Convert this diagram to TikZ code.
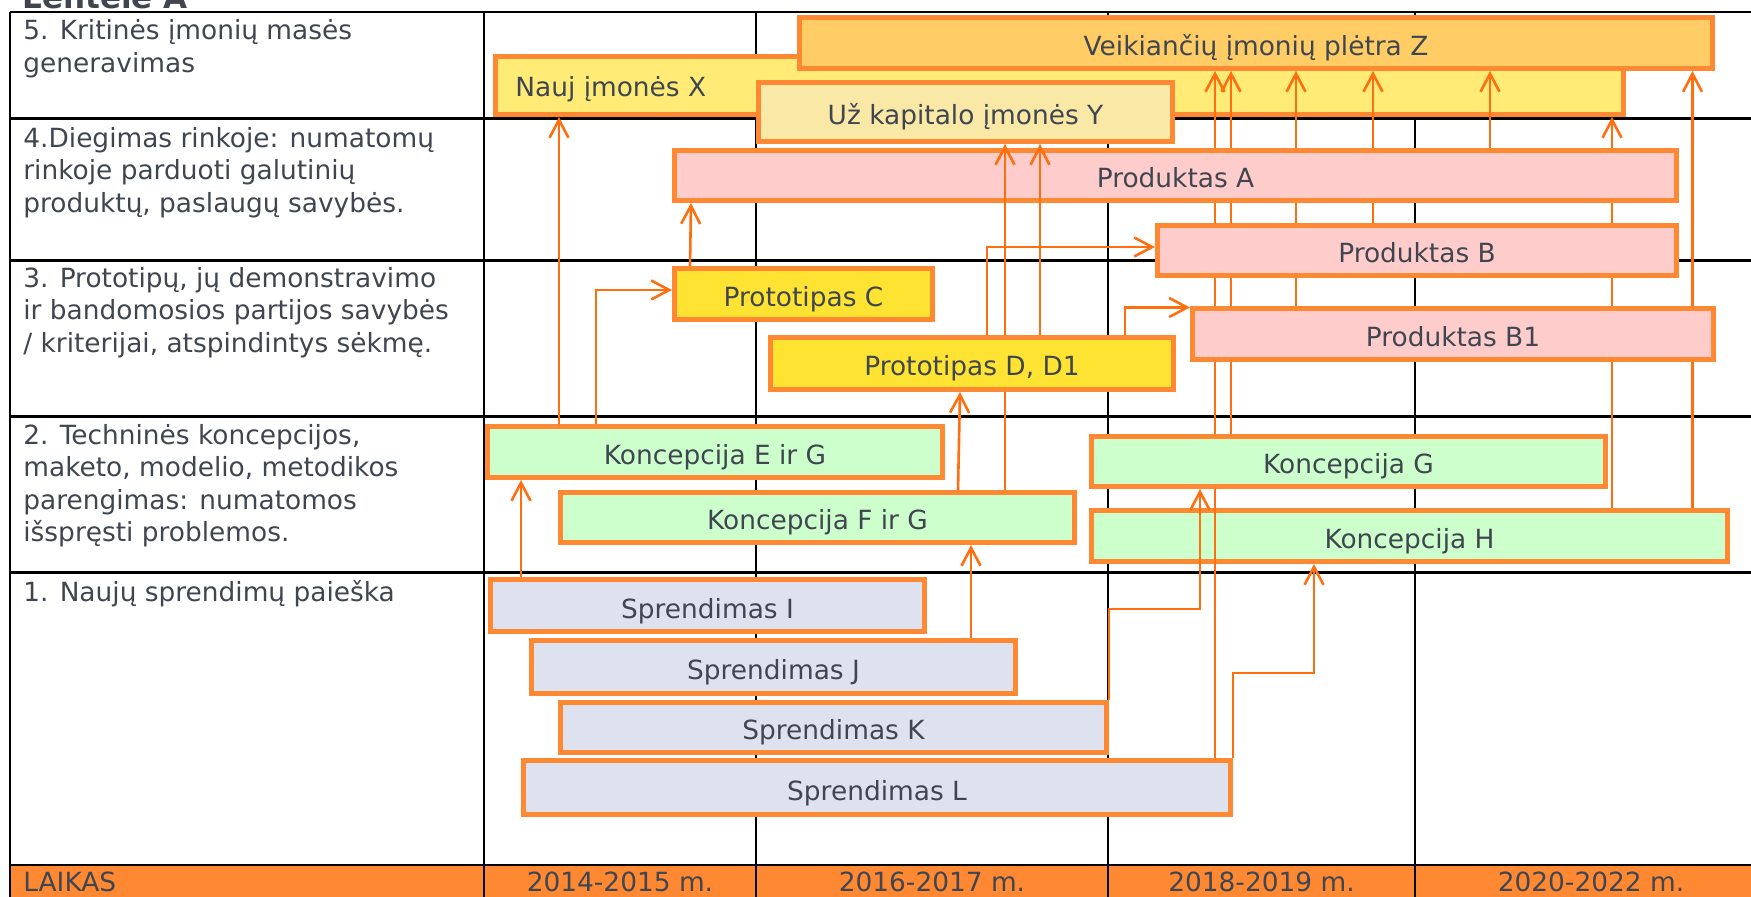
\documentclass[tikz,border=0pt]{standalone}
\usepackage{fontspec}
\setmainfont{DejaVu Sans}
\usetikzlibrary{arrows.meta}

\definecolor{txt}{RGB}{64,70,80}
\definecolor{edge}{RGB}{255,136,51}
\definecolor{link}{RGB}{255,111,15}
\definecolor{fillZ}{RGB}{255,204,102}
\definecolor{fillX}{RGB}{255,235,117}
\definecolor{fillY}{RGB}{250,232,166}
\definecolor{fillProd}{RGB}{255,204,204}
\definecolor{fillProto}{RGB}{255,227,51}
\definecolor{fillKonc}{RGB}{204,255,204}
\definecolor{fillSpr}{RGB}{222,226,238}
\definecolor{timebar}{RGB}{255,136,51}

\pgfdeclarelayer{grid}
\pgfdeclarelayer{under}
\pgfdeclarelayer{lines}
\pgfdeclarelayer{overlines}
\pgfdeclarelayer{top}
\pgfsetlayers{grid,under,lines,main,overlines,top}

\tikzset{
  gbox/.style={draw=edge, line width=2.5pt, inner sep=0pt, text=txt,
    font=\fontsize{13.2}{16}\selectfont, text height=12.5pt, text depth=0pt},
  rowlabel/.style={anchor=north west, align=left, inner sep=0pt, text=txt,
    font=\fontsize{13.2}{16.25}\selectfont},
  timelabel/.style={anchor=base, inner sep=0pt, text=txt,
    font=\fontsize{13.2}{16}\selectfont},
  gridline/.style={draw=black, line width=1.3pt},
  conn/.style={draw=link, line width=1.3pt, -{Straight Barb[length=9pt,width=9.5pt]}}
}

% box: name, x1, y1, x2, y2 (outer edges, px), fill, text
\newcommand\gbox[7]{%
  \pgfmathsetlengthmacro\gboxw{(#4-#2-5)*0.5pt}%
  \pgfmathsetlengthmacro\gboxh{(#5-#3-5)*0.5pt}%
  \node[gbox, fill=#6, minimum width=\gboxw, minimum height=\gboxh]
    (#1) at ({(#2+#4)/2},{(#3+#5)/2}) {#7};}

\begin{document}
\begin{tikzpicture}[x=0.5pt, y=-0.5pt]
\useasboundingbox (0,0) rectangle (1751,897);

% table grid
\begin{pgfonlayer}{grid}
  \fill[timebar] (10,865) rectangle (1767,905);
  \foreach \yy in {12,118.3,260.7,416.7,572.7,865}
    \draw[gridline] (10,\yy) -- (1767,\yy);
  \foreach \xx in {10,484,756,1108,1415}
    \draw[gridline] (\xx,12) -- (\xx,905);
\end{pgfonlayer}

% title
\node[anchor=base west, inner sep=0pt, text=txt,
  font=\fontsize{15.5}{18}\selectfont\bfseries] (title) at (22,8.3) {Lentelė A};

% stage labels
\node[rowlabel] (r5) at (23,19.3) {5. Kritinės įmonių masės\\generavimas};
\node[rowlabel] (r4) at (23,126.7) {4.Diegimas rinkoje: numatomų\\rinkoje parduoti galutinių\\produktų, paslaugų savybės.};
\node[rowlabel] (r3) at (23,266.7) {3. Prototipų, jų demonstravimo\\ir bandomosios partijos savybės\\/ kriterijai, atspindintys sėkmę.};
\node[rowlabel] (r2) at (23,424) {2. Techninės koncepcijos,\\maketo, modelio, metodikos\\parengimas: numatomos\\išspręsti problemos.};
\node[rowlabel] (r1) at (23,580) {1. Naujų sprendimų paieška};

% time axis
\node[timelabel, anchor=base west] (t0) at (23,891) {LAIKAS};
\node[timelabel] (t1) at (620,891) {2014-2015 m.};
\node[timelabel] (t2) at (932,891) {2016-2017 m.};
\node[timelabel] (t3) at (1261.5,891) {2018-2019 m.};
\node[timelabel] (t4) at (1591,891) {2020-2022 m.};

% boxes lying under the connectors
\begin{pgfonlayer}{under}
  \gbox{X}{493}{54}{1626}{117}{fillX}{}
  \gbox{H}{1089}{508}{1730}{564}{fillKonc}{Koncepcija H}
\end{pgfonlayer}
\node[anchor=base west, inner sep=0pt, text=txt, font=\fontsize{13.2}{16}\selectfont]
  (Xtext) at (515,96.7) {Nauj įmonės X};

% boxes above the connectors
\gbox{Z}{797}{15}{1715}{71}{fillZ}{Veikiančių įmonių plėtra Z}
\gbox{Y}{756}{80}{1175}{144}{fillY}{\vphantom{Už}Už kapitalo įmonės Y}
\gbox{A}{672}{148}{1679}{203}{fillProd}{Produktas A}
\gbox{B}{1155}{223}{1679}{278}{fillProd}{Produktas B}
\gbox{B1}{1190}{306}{1716}{362}{fillProd}{Produktas B1}
\gbox{C}{672}{266}{935}{322}{fillProto}{Prototipas C}
\gbox{EG}{485}{424}{945}{480}{fillKonc}{Koncepcija E ir G}
\gbox{FG}{558}{490}{1077}{545}{fillKonc}{Koncepcija F ir G}
\gbox{G}{1089}{434}{1608}{489}{fillKonc}{Koncepcija G}
\gbox{I}{488}{577}{927}{634}{fillSpr}{Sprendimas I}
\gbox{J}{529}{638}{1018}{696}{fillSpr}{Sprendimas J}
\gbox{K}{558}{700}{1109}{755}{fillSpr}{Sprendimas K}
\gbox{L}{521}{758}{1233}{817}{fillSpr}{Sprendimas L}
\begin{pgfonlayer}{top}
  \gbox{D}{768}{335}{1176}{392}{fillProto}{Prototipas D, D1}
\end{pgfonlayer}

% connectors
\begin{pgfonlayer}{lines}
  \draw[conn] (521,0 |- I.north) -- (521,0 |- EG.south);
  \draw[conn] (559,0 |- EG.north) -- (559,0 |- X.south);
  \draw[conn] (596,0 |- EG.north) |- (C.west |- 0,290);
  \draw[conn] (690,0 |- C.north) -- (691,0 |- A.south);
  \draw[conn] (971,0 |- J.north) -- (971,0 |- FG.south);
  \draw[conn] (958,0 |- FG.north) -- (960,0 |- D.south);
  \draw[conn] (987,0 |- D.north) |- (B.west |- 0,247);
  \draw[conn] (1125,0 |- D.north) |- (B1.west |- 0,307.5);
  \draw[conn] (K.north east) -- (K.north east |- 0,609) -| (1200,0 |- G.south);
  \draw[conn] (1215,0 |- L.north) -- (1215,0 |- Z.south);
  \draw[conn] (L.north east) -- (L.north east |- 0,673) -| (1314,0 |- H.south);
  \draw[conn] (1231,0 |- G.north) -- (1231,0 |- Z.south);
  \draw[conn] (1296,0 |- B1.north) -- (1296,0 |- Z.south);
  \draw[conn] (1373,0 |- B.north) -- (1373,0 |- Z.south);
  \draw[conn] (1490,0 |- A.north) -- (1490,0 |- Z.south);
  \draw[conn] (1612,0 |- H.north) -- (1612,0 |- X.south);
  \draw[conn] (1692.5,0 |- H.north) -- (1692.5,0 |- Z.south);
\end{pgfonlayer}
\begin{pgfonlayer}{overlines}
  \draw[conn] (1005,0 |- FG.north) -- (1005,0 |- Y.south);
  \draw[conn] (1040,0 |- D.north) -- (1040,0 |- Y.south);
\end{pgfonlayer}
\end{tikzpicture}
\end{document}
